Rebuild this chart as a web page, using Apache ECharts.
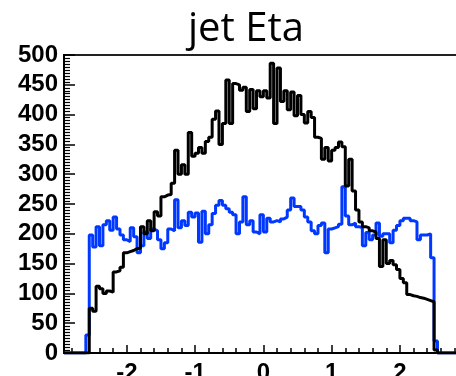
<!DOCTYPE html>
<html>
<head>
<meta charset="utf-8">
<script src="https://cdn.jsdelivr.net/npm/echarts@6/dist/echarts.min.js"></script>
<style>
html,body{margin:0;padding:0;background:#fff;}
#chart{width:456px;height:376px;}
</style>
</head>
<body>
<div id="chart"></div>
<script>
// Histogram binning (eta)
const binStart = -2.6;
const binWidth = 0.05;
const xMin = -2.92;
const xMax = 2.88;

// Black histogram counts, bins from -2.60 in steps of 0.05
const blackCounts = [
  0, 75, 70, 112, 108, 100, 104, 102, 136, 138,
  144, 168, 170, 172, 175, 176, 212, 200, 222, 205,
  237, 230, 262, 265, 266, 285, 340, 300, 316, 300,
  370, 330, 335, 345, 335, 355, 362, 392, 406, 350,
  385, 458, 385, 452, 450, 441, 446, 405, 442, 410,
  440, 430, 440, 428, 486, 385, 478, 422, 440, 408,
  438, 398, 432, 400, 386, 405, 395, 362, 360, 325,
  345, 322, 340, 345, 354, 346, 280, 325, 272, 240,
  220, 212, 210, 205, 203, 192, 145, 190, 150, 155,
  148, 140, 125, 118, 98, 96, 95, 93, 92, 90,
  88, 86, 5, 0
];

// Blue histogram counts, same bins
const blueCounts = [
  30, 198, 178, 212, 180, 215, 222, 206, 228, 208,
  198, 190, 187, 210, 195, 168, 180, 203, 192, 208,
  205, 190, 175, 185, 208, 205, 257, 210, 222, 214,
  236, 228, 235, 186, 238, 200, 215, 234, 248, 256,
  248, 242, 236, 232, 200, 220, 262, 215, 222, 203,
  200, 232, 203, 226, 220, 222, 220, 225, 228, 240,
  260, 246, 246, 240, 228, 220, 205, 200, 214, 218,
  168, 208, 210, 212, 216, 279, 230, 215, 218, 212,
  210, 180, 202, 190, 198, 218, 196, 200, 200, 185,
  206, 214, 222, 226, 226, 222, 220, 190, 198, 198,
  200, 160, 20, 0
];

const xMajorTicks = [-2, -1, 0, 1, 2];
const xMinorTicks = [-2.8, -2.6, -2.4, -2.2, -1.8, -1.6, -1.4, -1.2, -0.8, -0.6, -0.4, -0.2,
                     0.2, 0.4, 0.6, 0.8, 1.2, 1.4, 1.6, 1.8, 2.2, 2.4, 2.6, 2.8];
const titleText = 'jet Eta';

function stepData(counts) {
  const pts = [[xMin, 0]];
  counts.forEach(function (v, i) { pts.push([binStart + i * binWidth, v]); });
  pts.push([binStart + counts.length * binWidth, 0]);
  pts.push([xMax, 0]);
  return pts;
}

const chart = echarts.init(document.getElementById('chart'), null, {renderer: 'canvas'});
const labelFont = {fontFamily: 'Liberation Sans', fontWeight: 'bold', fontSize: 24, color: '#000'};

chart.setOption({
  animation: false,
  backgroundColor: '#fff',
  title: {
    text: titleText,
    left: 183,
    top: 5,
    textStyle: {fontFamily: 'Open Sans', fontWeight: 'normal', fontSize: 40, color: '#000'}
  },
  grid: {left: 64, top: 55, right: -4, bottom: 23, show: true, borderColor: '#222', borderWidth: 2,
         containLabel: false, outerBoundsMode: 'none'},
  xAxis: [
    {
      type: 'value', min: xMin, max: xMax, position: 'bottom',
      axisLine: {show: true, onZero: false, lineStyle: {color: '#000', width: 2}},
      axisTick: {show: true, inside: true, length: 8, customValues: xMajorTicks, lineStyle: {color: '#000', width: 1.5}},
      axisLabel: Object.assign({customValues: xMajorTicks, margin: 8}, labelFont),
      splitLine: {show: false}
    },
    {
      type: 'value', min: xMin, max: xMax, position: 'bottom',
      axisLine: {show: false, onZero: false},
      axisTick: {show: true, inside: true, length: 5, customValues: xMinorTicks, lineStyle: {color: '#000', width: 1.5}},
      axisLabel: {show: false},
      splitLine: {show: false}
    }
  ],
  yAxis: {
    type: 'value', min: 0, max: 500, interval: 50,
    axisLine: {show: true, onZero: false, lineStyle: {color: '#000', width: 2}},
    axisTick: {show: true, inside: true, length: 11, lineStyle: {color: '#000', width: 1.5}},
    minorTick: {show: true, splitNumber: 10, length: 6, lineStyle: {color: '#000', width: 1.2}},
    axisLabel: Object.assign({margin: 6}, labelFont),
    splitLine: {show: false}
  },
  series: [
    {
      type: 'line', step: 'end', xAxisIndex: 0, showSymbol: false, symbol: 'none',
      data: stepData(blueCounts),
      lineStyle: {color: '#0038ff', width: 3}
    },
    {
      type: 'line', step: 'end', xAxisIndex: 0, showSymbol: false, symbol: 'none',
      data: stepData(blackCounts),
      lineStyle: {color: '#000', width: 3}
    }
  ]
});
</script>
</body>
</html>
